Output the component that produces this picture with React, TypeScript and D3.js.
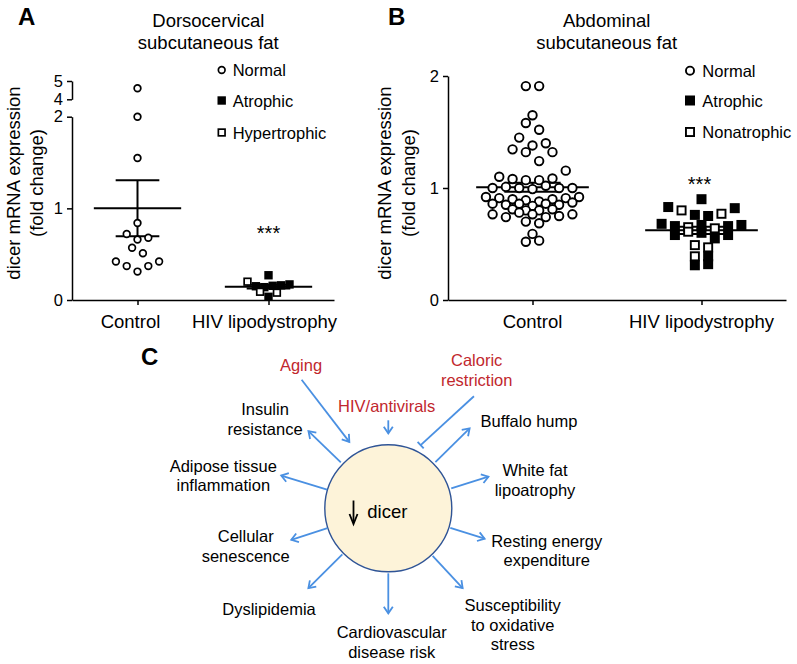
import { useEffect, useRef } from "react";
import * as d3 from "d3";

const FONT = "'Liberation Sans', Arial, Helvetica, sans-serif";
const RED = "#c1272d";
const BLUE = "#4a90e2";

// categories on both scatter plots
const groups = ["Control", "HIV lipodystrophy"];

// Panel A: dorsocervical fat, values grouped by the rows of the column scatter
const dorsoControl = [[4.6], [2.0], [1.55], [0.84], [0.72, 0.66, 0.68], [0.57, 0.51], [0.42, 0.37, 0.31, 0.37, 0.42]];
const dorsoHiv = [[0.27], [0.2, 0.15, 0.14, 0.155, 0.16, 0.17], [0.09, 0.035, 0.08]];
// F = atrophic (filled square), O = hypertrophic / nonatrophic (open square)
const dorsoHivType = [["F"], ["O", "F", "F", "F", "F", "F"], ["O", "F", "O"]];
const dorsoTicksLow = [0, 1, 2];
const dorsoTicksHigh = [4, 5];
const dorsoLegend = ["Normal", "Atrophic", "Hypertrophic"];

// Panel B: abdominal fat
const abdoControl = [
  [1.91, 1.91],
  [1.65],
  [1.58, 1.52],
  [1.45, 1.38, 1.4],
  [1.345, 1.32, 1.24, 1.32],
  [1.1, 1.08, 1.07, 1.07, 1.085, 1.155],
  [1.0, 1.01, 1.0, 0.99, 1.02, 1.0, 1.0],
  [0.92, 0.91, 0.9, 0.89, 0.88, 0.9, 0.91, 0.92],
  [0.86, 0.85, 0.86, 0.84, 0.86, 0.85, 0.87],
  [0.81, 0.8, 0.8, 0.81],
  [0.765, 0.74, 0.78, 0.765, 0.74, 0.75, 0.765],
  [0.7, 0.685],
  [0.59],
  [0.52, 0.53],
];
const abdoHiv = [
  [0.9],
  [0.83, 0.8, 0.76, 0.75, 0.77, 0.82],
  [0.68, 0.66, 0.65, 0.67, 0.64, 0.66, 0.67],
  [0.58, 0.61, 0.6, 0.55, 0.58],
  [0.49, 0.47],
  [0.39, 0.39],
  [0.31, 0.32],
];
const abdoHivType = [
  ["F"],
  ["F", "O", "F", "F", "O", "F"],
  ["F", "F", "O", "F", "O", "F", "F"],
  ["F", "O", "F", "F", "F"],
  ["O", "O"],
  ["O", "F"],
  ["F", "F"],
];
const abdoTicks = [0, 1, 2];
const abdoLegend = ["Normal", "Atrophic", "Nonatrophic"];

// Panel C: diagram texts
const causes = [["Aging"], ["HIV/antivirals"], ["Caloric", "restriction"]];
const effects = [
  ["Insulin", "resistance"],
  ["Adipose tissue", "inflammation"],
  ["Cellular", "senescence"],
  ["Dyslipidemia"],
  ["Cardiovascular", "disease risk"],
  ["Susceptibility", "to oxidative", "stress"],
  ["Resting energy", "expenditure"],
  ["White fat", "lipoatrophy"],
  ["Buffalo hump"],
];

// diagram layout (angles in degrees, radii from the dicer circle centre)
const causeLayout = [
  { a0: -124, r0: 155, a1: -120.4, r1: 77, lx: 301, ly: 370.7, end: "arrow" },
  { a0: -90, r0: 88, a1: -90, r1: 75, lx: 386.7, ly: 411.7, end: "arrow" },
  { a0: -52.6, r0: 141, a1: -62.9, r1: 71, lx: 476.7, ly: 366, end: "bar" },
];
const effectLayout = [
  { a: -136, r0: 66, r1: 111, lx: 265, ly: 415 },
  { a: -163, r0: 64, r1: 112, lx: 223.3, ly: 471.7 },
  { a: 162, r0: 64, r1: 102, lx: 245.7, ly: 542.3 },
  { a: 135, r0: 65, r1: 113, lx: 269, ly: 615 },
  { a: 90, r0: 65, r1: 105, lx: 391.7, ly: 638.3 },
  { a: 47, r0: 65, r1: 109, lx: 512.7, ly: 611 },
  { a: 17.5, r0: 65, r1: 101, lx: 546.7, ly: 546.7 },
  { a: -17.5, r0: 66, r1: 105, lx: 535, ly: 476 },
  { a: -44.5, r0: 66, r1: 114, lx: 529, ly: 426.7 },
];

function rowsToPoints(rows, types, cx, spacing, y) {
  const pts = [];
  rows.forEach((row, ri) =>
    row.forEach((v, i) =>
      pts.push({
        v,
        t: types ? types[ri][i] : "N",
        x: cx + (i - (row.length - 1) / 2) * spacing,
        y: y(v),
      })
    )
  );
  return pts;
}

function drawMarker(g, x, y, t, size) {
  const sw = size > 9 ? 1.9 : 1.7;
  if (t === "N") {
    g.append("circle")
      .attr("cx", x)
      .attr("cy", y)
      .attr("r", size / 2 - sw / 2)
      .attr("fill", "#fff")
      .attr("stroke", "#000")
      .attr("stroke-width", sw);
  } else if (t === "F") {
    g.append("rect")
      .attr("x", x - size / 2)
      .attr("y", y - size / 2)
      .attr("width", size)
      .attr("height", size)
      .attr("fill", "#000");
  } else {
    g.append("rect")
      .attr("x", x - size / 2 + sw / 2)
      .attr("y", y - size / 2 + sw / 2)
      .attr("width", size - sw)
      .attr("height", size - sw)
      .attr("fill", "#fff")
      .attr("stroke", "#000")
      .attr("stroke-width", sw);
  }
}

function meanSem(g, rows, cx, y, hw, cw) {
  const vals = rows.flat();
  const m = d3.mean(vals);
  const sem = d3.deviation(vals) / Math.sqrt(vals.length);
  const line = (x1, y1, x2, y2) =>
    g.append("line")
      .attr("x1", x1)
      .attr("y1", y1)
      .attr("x2", x2)
      .attr("y2", y2)
      .attr("stroke", "#000")
      .attr("stroke-width", 2);
  line(cx - hw, y(m), cx + hw, y(m));
  line(cx, y(m - sem), cx, y(m + sem));
  line(cx - cw, y(m + sem), cx + cw, y(m + sem));
  line(cx - cw, y(m - sem), cx + cw, y(m - sem));
}

function styleAxis(g) {
  g.attr("font-family", FONT).attr("font-size", 16.5);
  g.selectAll("path, line").attr("stroke", "#000").attr("stroke-width", 1.5);
  g.selectAll("text").attr("fill", "#000");
}

function multiline(g, lines, x, y, opts) {
  const t = g
    .append("text")
    .attr("x", x)
    .attr("y", y)
    .attr("text-anchor", "middle")
    .attr("font-family", FONT)
    .attr("font-size", opts.size)
    .attr("fill", opts.color || "#000");
  lines.forEach((l, i) =>
    t.append("tspan").attr("x", x).attr("y", y + i * opts.lh).text(l)
  );
}

export default function App() {
  const ref = useRef(null);

  useEffect(() => {
    const svg = d3.select(ref.current);
    svg.selectAll("*").remove();
    const fmt = d3.format("d");

    // ---------- Panel A ----------
    const xA = d3.scalePoint().domain(groups).range([72, 334]).padding(0.5);
    const yLow = d3.scaleLinear().domain([0, 2]).range([300, 116.7]);
    const yHigh = d3.scaleLinear().domain([4, 5]).range([99.3, 81]);
    const yA = (v) => (v > 3 ? yHigh(v) : yLow(v));

    const gA = svg.append("g");
    gA.append("g")
      .attr("transform", "translate(72,0)")
      .call(d3.axisLeft(yLow).tickValues(dorsoTicksLow).tickFormat(fmt).tickSize(5).tickSizeOuter(0).tickPadding(4))
      .call(styleAxis);
    gA.append("g")
      .attr("transform", "translate(72,0)")
      .call(d3.axisLeft(yHigh).tickValues(dorsoTicksHigh).tickFormat(fmt).tickSize(5).tickSizeOuter(0).tickPadding(4))
      .call(styleAxis);
    gA.append("g")
      .attr("transform", "translate(0,300)")
      .call(d3.axisBottom(xA).tickSize(5).tickSizeOuter(0).tickFormat(() => ""))
      .call(styleAxis);

    const labelShiftA = [-7, -4];
    groups.forEach((gname, i) =>
      gA.append("text")
        .attr("x", xA(gname) + labelShiftA[i])
        .attr("y", 328)
        .attr("text-anchor", "middle")
        .attr("font-family", FONT)
        .attr("font-size", 18.5)
        .text(gname)
    );

    const stepA = xA.step();
    meanSem(gA, dorsoControl, xA(groups[0]), yA, stepA / 3, stepA / 6);
    meanSem(gA, dorsoHiv, xA(groups[1]), yA, stepA / 3, stepA / 6);
    rowsToPoints(dorsoControl, null, xA(groups[0]), 10.8, yA).forEach((p) =>
      drawMarker(gA, p.x, p.y, p.t, 8.4)
    );
    rowsToPoints(dorsoHiv, dorsoHivType, xA(groups[1]), 8.4, yA).forEach((p) =>
      drawMarker(gA, p.x, p.y, p.t, 8.4)
    );

    gA.append("text")
      .attr("x", xA(groups[1]))
      .attr("y", 240)
      .attr("text-anchor", "middle")
      .attr("font-family", FONT)
      .attr("font-size", 20)
      .text("***");

    multiline(gA, ["Dorsocervical", "subcutaneous fat"], 208.3, 26.7, { size: 18.5, lh: 21.8 });

    ["dicer mRNA expression", "(fold change)"].forEach((l, i) =>
      gA.append("text")
        .attr("transform", `translate(${20 + i * 23},183) rotate(-90)`)
        .attr("text-anchor", "middle")
        .attr("font-family", FONT)
        .attr("font-size", 18.5)
        .text(l)
    );

    ["N", "F", "O"].forEach((t, i) => {
      const yy = [70, 100.5, 132.5][i];
      drawMarker(gA, 221.7, yy, t, 8.4);
      gA.append("text")
        .attr("x", 232.7)
        .attr("y", yy + 6)
        .attr("font-family", FONT)
        .attr("font-size", 16.5)
        .text(dorsoLegend[i]);
    });

    // ---------- Panel B ----------
    const xB = d3.scalePoint().domain(groups).range([448, 786]).padding(0.5);
    const yB = d3.scaleLinear().domain([0, 2]).range([300, 76]);
    const gB = svg.append("g");
    gB.append("g")
      .attr("transform", "translate(448,0)")
      .call(d3.axisLeft(yB).tickValues(abdoTicks).tickFormat(fmt).tickSize(5).tickSizeOuter(0).tickPadding(4))
      .call(styleAxis);
    gB.append("g")
      .attr("transform", "translate(0,300)")
      .call(d3.axisBottom(xB).tickSize(5).tickSizeOuter(0).tickFormat(() => ""))
      .call(styleAxis);
    groups.forEach((gname) =>
      gB.append("text")
        .attr("x", xB(gname))
        .attr("y", 328)
        .attr("text-anchor", "middle")
        .attr("font-family", FONT)
        .attr("font-size", 18.5)
        .text(gname)
    );

    const stepB = xB.step();
    meanSem(gB, abdoControl, xB(groups[0]), yB, stepB / 3, stepB / 6);
    meanSem(gB, abdoHiv, xB(groups[1]), yB, stepB / 3, stepB / 6);
    rowsToPoints(abdoControl, null, xB(groups[0]), 13.3, yB).forEach((p) =>
      drawMarker(gB, p.x, p.y, p.t, 10.4)
    );
    rowsToPoints(abdoHiv, abdoHivType, xB(groups[1]), 13.3, yB).forEach((p) =>
      drawMarker(gB, p.x, p.y, p.t, 10)
    );

    gB.append("text")
      .attr("x", xB(groups[1]) - 2)
      .attr("y", 191)
      .attr("text-anchor", "middle")
      .attr("font-family", FONT)
      .attr("font-size", 20)
      .text("***");

    multiline(gB, ["Abdominal", "subcutaneous fat"], 606.7, 26.7, { size: 18.5, lh: 21.8 });

    ["dicer mRNA expression", "(fold change)"].forEach((l, i) =>
      gB.append("text")
        .attr("transform", `translate(${391 + i * 24},183) rotate(-90)`)
        .attr("text-anchor", "middle")
        .attr("font-family", FONT)
        .attr("font-size", 18.5)
        .text(l)
    );

    ["N", "F", "O"].forEach((t, i) => {
      const yy = [70.7, 100.5, 132][i];
      drawMarker(gB, 690, yy, t, 10);
      gB.append("text")
        .attr("x", 702.3)
        .attr("y", yy + 6)
        .attr("font-family", FONT)
        .attr("font-size", 16.5)
        .text(abdoLegend[i]);
    });

    // ---------- Panel C ----------
    const gC = svg.append("g");
    const cx = 388.3;
    const cy = 508.3;
    const R = 63.5;
    const polar = (a, r) => [cx + r * Math.cos((a * Math.PI) / 180), cy + r * Math.sin((a * Math.PI) / 180)];

    gC.append("circle")
      .attr("cx", cx)
      .attr("cy", cy)
      .attr("r", R)
      .attr("fill", "#fdf3d9")
      .attr("stroke", "#2f5496")
      .attr("stroke-width", 1.4);

    const seg = (p0, p1) =>
      gC.append("line")
        .attr("x1", p0[0])
        .attr("y1", p0[1])
        .attr("x2", p1[0])
        .attr("y2", p1[1])
        .attr("stroke", BLUE)
        .attr("stroke-width", 1.8);

    const head = (p0, p1) => {
      const th = Math.atan2(p1[1] - p0[1], p1[0] - p0[0]);
      const L = 8;
      const s = 0.6;
      const a1 = [p1[0] - L * Math.cos(th - s), p1[1] - L * Math.sin(th - s)];
      const a2 = [p1[0] - L * Math.cos(th + s), p1[1] - L * Math.sin(th + s)];
      gC.append("path")
        .attr("d", `M${a1[0]},${a1[1]}L${p1[0]},${p1[1]}L${a2[0]},${a2[1]}`)
        .attr("fill", "none")
        .attr("stroke", BLUE)
        .attr("stroke-width", 1.8);
    };

    const bar = (p0, p1) => {
      const th = Math.atan2(p1[1] - p0[1], p1[0] - p0[0]) + Math.PI / 2;
      const L = 4.5;
      seg([p1[0] - L * Math.cos(th), p1[1] - L * Math.sin(th)], [p1[0] + L * Math.cos(th), p1[1] + L * Math.sin(th)]);
    };

    effectLayout.forEach((e, i) => {
      const p0 = polar(e.a, e.r0);
      const p1 = polar(e.a, e.r1);
      seg(p0, p1);
      head(p0, p1);
      multiline(gC, effects[i], e.lx, e.ly, { size: 16.5, lh: 19.7 });
    });

    causeLayout.forEach((c, i) => {
      const p0 = polar(c.a0, c.r0);
      const p1 = polar(c.a1, c.r1);
      seg(p0, p1);
      if (c.end === "arrow") head(p0, p1);
      else bar(p0, p1);
      multiline(gC, causes[i], c.lx, c.ly, { size: 16.5, lh: 19.7, color: RED });
    });

    // down arrow + dicer inside the circle
    gC.append("line")
      .attr("x1", 353.5)
      .attr("y1", 500.5)
      .attr("x2", 353.5)
      .attr("y2", 523)
      .attr("stroke", "#000")
      .attr("stroke-width", 1.8);
    gC.append("path")
      .attr("d", "M349.5,514 L353.5,524 L357.5,514")
      .attr("fill", "none")
      .attr("stroke", "#000")
      .attr("stroke-width", 1.8);
    gC.append("text")
      .attr("x", 367.3)
      .attr("y", 517.5)
      .attr("font-family", FONT)
      .attr("font-size", 18.5)
      .text("dicer");

    // panel letters
    [["A", 18, 25], ["B", 388, 25], ["C", 141, 365]].forEach(([t, x, y]) =>
      svg.append("text")
        .attr("x", x)
        .attr("y", y)
        .attr("font-family", FONT)
        .attr("font-size", 24)
        .attr("font-weight", "bold")
        .text(t)
    );
  }, []);

  return (
    <svg
      ref={ref}
      width={797}
      height={664}
      style={{ position: "absolute", left: 0, top: 0, background: "#fff" }}
    />
  );
}
